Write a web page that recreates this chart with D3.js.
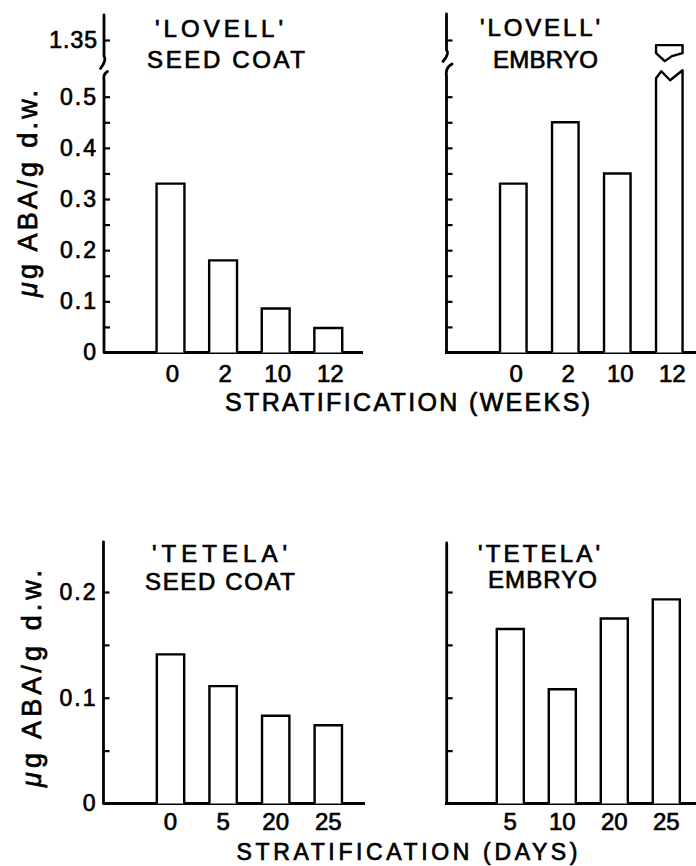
<!DOCTYPE html>
<html><head><meta charset="utf-8">
<script src="https://cdn.jsdelivr.net/npm/d3@7"></script>
<style>
body{margin:0;background:#fff}
svg{display:block}
text{font-family:"Liberation Sans",Arial,sans-serif;fill:#000;stroke:#000;stroke-width:0.7px}
</style>
</head><body>
<svg id="c" width="696" height="866"></svg>
<script>
// ---------------- data ----------------
const lovellWeeks = ["0", "2", "10", "12"];
const lovellSeedCoat = [0.33, 0.18, 0.086, 0.048];
const lovellEmbryo = [0.33, 0.45, 0.35, 1.34];
const tetelaSeedDays = ["0", "5", "20", "25"];
const tetelaSeedCoat = [0.141, 0.111, 0.083, 0.074];
const tetelaEmbryoDays = ["5", "10", "20", "25"];
const tetelaEmbryo = [0.165, 0.108, 0.175, 0.193];
const lovellTickLabels = [0, 0.1, 0.2, 0.3, 0.4, 0.5];
const lovellBreakTickLabels = [1.35];
const tetelaTickLabels = [0, 0.1, 0.2];
const yTitle = "g ABA/g d.w.";
const weeksTitle = "STRATIFICATION (WEEKS)";
const daysTitle = "STRATIFICATION (DAYS)";

// ---------------- drawing ----------------
const svg = d3.select("#c");
const AXW = 2.8, BARW = 2.4;
const fmt = d => d === 0 ? "0" : (d === 1.35 ? "1.35" : d3.format(".1f")(d));

function drawPanel(o) {
  const g = svg.append("g");
  const x = d3.scaleBand().domain(o.cats).range(o.xRange)
    .paddingInner(o.pad).paddingOuter(o.pad / 2);
  const y = d3.scaleLinear().domain(o.yDomain).range(o.yRange);
  const yUp = o.brk ? d3.scaleLinear().domain(o.brk.upDomain).range(o.brk.upRange) : null;

  // tick marks (pointing inward)
  const tv = d3.range(o.minor, o.tickMax + 1e-9, o.minor);
  const ta = g.append("g").attr("transform", `translate(${o.axisX},0)`)
    .call(d3.axisRight(y).tickValues(tv).tickSize(6).tickFormat(""));
  ta.select(".domain").remove();
  ta.selectAll("line").attr("stroke", "#000").attr("stroke-width", 2.2);
  if (o.brk) {
    const tu = g.append("g").attr("transform", `translate(${o.axisX},0)`)
      .call(d3.axisRight(yUp).tickValues(lovellBreakTickLabels).tickSize(6).tickFormat(""));
    tu.select(".domain").remove();
    tu.selectAll("line").attr("stroke", "#000").attr("stroke-width", 2.2);
  }

  // axis line(s)
  o.axisPaths.forEach(p => g.append("path").attr("d", p).attr("fill", "none")
    .attr("stroke", "#000").attr("stroke-width", AXW).attr("stroke-linecap", "round"));
  // baseline
  g.append("line").attr("x1", o.baseX[0]).attr("x2", o.baseX[1])
    .attr("y1", y(0)).attr("y2", y(0)).attr("stroke", "#000").attr("stroke-width", AXW);

  // y labels
  if (o.labels) {
    const la = g.append("g").attr("transform", `translate(${o.axisX - 6},0)`)
      .call(d3.axisLeft(y).tickValues(o.labels).tickSize(0).tickPadding(0).tickFormat(fmt));
    la.select(".domain").remove();
    la.selectAll("text").attr("font-size", 23).attr("letter-spacing", 2)
      .attr("font-family", "Liberation Sans, Arial, sans-serif").attr("fill", "#000");
    if (o.brk) {
      const lu = g.append("g").attr("transform", `translate(${o.axisX - 6},0)`)
        .call(d3.axisLeft(yUp).tickValues(lovellBreakTickLabels).tickSize(0).tickPadding(0).tickFormat(fmt));
      lu.select(".domain").remove();
      lu.selectAll("text").attr("font-size", 23).attr("letter-spacing", 1)
        .attr("font-family", "Liberation Sans, Arial, sans-serif").attr("fill", "#000");
    }
  }

  // bars
  const bw = x.bandwidth();
  o.vals.forEach((v, i) => {
    const x0 = x(o.cats[i]), x1 = x0 + bw, b = y(0);
    if (o.brk && v > o.yDomain[1]) {
      const yb = y(o.brk.lowMax);
      const lower = `M${x0},${b} V${yb + 2} L${x0 + 0.2 * bw},${yb - 5} L${x0 + 0.53 * bw},${yb + 4} L${x1},${yb - 6} V${b}`;
      const yt = yUp(v);
      const upper = `M${x0},${yt + 8} V${yt} H${x1} V${yt + 8} L${x0 + 0.6 * bw},${yt + 11} L${x0 + 0.33 * bw},${yt + 16} Z`;
      [lower, upper].forEach(p => g.append("path").attr("d", p).attr("fill", "#fff")
        .attr("stroke", "#000").attr("stroke-width", BARW).attr("stroke-linejoin", "round"));
    } else {
      g.append("path").attr("d", `M${x0},${b} V${y(v)} H${x1} V${b}`)
        .attr("fill", "#fff").attr("stroke", "#000").attr("stroke-width", BARW);
    }
    g.append("text").attr("x", x0 + bw / 2 + o.lblShift).attr("y", o.catY)
      .attr("text-anchor", "middle").attr("font-size", 24).text(o.cats[i]);
  });

  // titles
  o.titles.forEach(t => g.append("text").attr("x", t.x).attr("y", t.y)
    .attr("text-anchor", "middle").attr("font-size", 24)
    .attr("textLength", t.len).attr("lengthAdjust", "spacing").text(t.text));
}

// Lovell seed coat
drawPanel({
  cats: lovellWeeks, vals: lovellSeedCoat,
  xRange: [144.2, 354.6], pad: 0.47,
  yDomain: [0, 0.54], yRange: [352.5, 352.5 - 0.54 * 511.6],
  minor: 0.05, tickMax: 0.5, axisX: 104,
  brk: { upDomain: [1.30, 1.40], upRange: [40 + 0.05 * 511.6, 40 - 0.05 * 511.6], lowMax: 0.54 },
  axisPaths: ["M104,15 V56 Q107,60 100.5,68.5", "M107.5,71.5 Q103,74 104,80 V352.5"],
  baseX: [104, 363], labels: lovellTickLabels, catY: 382, lblShift: 2,
  titles: [{ text: "'LOVELL'", x: 219, y: 37, len: 128 }, { text: "SEED COAT", x: 226, y: 68, len: 158 }]
});
// Lovell embryo
drawPanel({
  cats: lovellWeeks, vals: lovellEmbryo,
  xRange: [487.3, 695.3], pad: 0.49,
  yDomain: [0, 0.54], yRange: [352.5, 352.5 - 0.54 * 511.6],
  minor: 0.05, tickMax: 0.5, axisX: 446.5,
  brk: { upDomain: [1.30, 1.40], upRange: [40 + 0.05 * 511.6, 40 - 0.05 * 511.6], lowMax: 0.54 },
  axisPaths: ["M446.5,14 V50 Q450,53 443,61.5", "M452,64 Q445,68 446.5,76 V352.5"],
  baseX: [445, 696], labels: null, catY: 382, lblShift: 3,
  titles: [{ text: "'LOVELL'", x: 540, y: 36, len: 120 }, { text: "EMBRYO", x: 545.5, y: 68, len: 105 }]
});
// Tetela seed coat
drawPanel({
  cats: tetelaSeedDays, vals: tetelaSeedCoat,
  xRange: [144.2, 354.6], pad: 0.48,
  yDomain: [0, 0.2], yRange: [803.5, 592],
  minor: 0.05, tickMax: 0.2, axisX: 103.5,
  brk: null,
  axisPaths: ["M103.5,542 V803.5"],
  baseX: [103.5, 365], labels: tetelaTickLabels, catY: 830, lblShift: 0,
  titles: [{ text: "'TETELA'", x: 219.5, y: 562, len: 135 }, { text: "SEED COAT", x: 220, y: 590, len: 150 }]
});
// Tetela embryo
drawPanel({
  cats: tetelaEmbryoDays, vals: tetelaEmbryo,
  xRange: [484.3, 692.3], pad: 0.48,
  yDomain: [0, 0.2], yRange: [803.5, 592],
  minor: 0.05, tickMax: 0.2, axisX: 446.7,
  brk: null,
  axisPaths: ["M446.7,543 V803.5"],
  baseX: [445, 696], labels: null, catY: 830, lblShift: 0,
  titles: [{ text: "'TETELA'", x: 539, y: 562, len: 122 }, { text: "EMBRYO", x: 542.5, y: 588, len: 109 }]
});

// axis titles
function yLabel(cx, cy, len) {
  const t = svg.append("text").attr("transform", `translate(${cx},${cy}) rotate(-90)`)
    .attr("text-anchor", "middle").attr("font-size", 27)
    .attr("textLength", len).attr("lengthAdjust", "spacing");
  t.append("tspan").attr("font-style", "italic").text("\u03bc");
  t.append("tspan").text(yTitle);
}
yLabel(37, 193.5, 207);
yLabel(41, 678.5, 217);

svg.append("text").attr("x", 407.5).attr("y", 411).attr("text-anchor", "middle")
  .attr("font-size", 25).attr("textLength", 365).attr("lengthAdjust", "spacing").text(weeksTitle);
svg.append("text").attr("x", 407).attr("y", 860).attr("text-anchor", "middle")
  .attr("font-size", 23).attr("textLength", 341).attr("lengthAdjust", "spacing").text(daysTitle);
</script>
</body></html>
